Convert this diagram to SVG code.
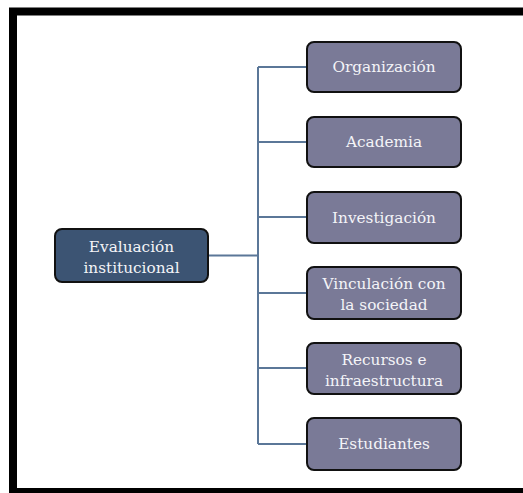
<svg xmlns="http://www.w3.org/2000/svg" width="523" height="493" viewBox="0 0 523 493">
  <style>
    .frame { fill: none; stroke: #000; stroke-width: 8; }
    .box { stroke: #111; stroke-width: 2; }
    .child { fill: #7a7a97; }
    .root { fill: #3c5473; }
    .lbl { font-family: "DejaVu Serif", "Liberation Serif", serif; font-size: 15.3px; fill: #f4f4f8; text-anchor: middle; }
    .wire { fill: none; stroke: #5b7798; stroke-width: 2; }
  </style>
  <rect width="523" height="493" fill="#fff"/>
  <!-- outer frame -->
  <path class="frame" d="M13,493 V11.5 H523 M13,492 H523"/>

  <g id="connectors">
    <path class="wire" d="M208,255.5 H258"/>
    <path class="wire" d="M258,67 V444"/>
    <path class="wire" d="M258,67 H307 M258,142 H307 M258,217 H307 M258,293 H307 M258,368 H307 M258,444 H307"/>
  </g>

  <g id="evaluacion">
    <rect class="box root" x="55" y="229" width="153" height="53" rx="7"/>
    <text class="lbl" x="131.5" y="252">Evaluación</text>
    <text class="lbl" x="131.5" y="273">institucional</text>
  </g>
  <g id="organizacion">
    <rect class="box child" x="307" y="42" width="154" height="50" rx="7"/>
    <text class="lbl" x="384" y="72">Organización</text>
  </g>
  <g id="academia">
    <rect class="box child" x="307" y="117" width="154" height="50" rx="7"/>
    <text class="lbl" x="384" y="147">Academia</text>
  </g>
  <g id="investigacion">
    <rect class="box child" x="307" y="192" width="154" height="51" rx="7"/>
    <text class="lbl" x="384" y="223">Investigación</text>
  </g>
  <g id="vinculacion">
    <rect class="box child" x="307" y="267" width="154" height="52" rx="7"/>
    <text class="lbl" x="384" y="289">Vinculación con</text>
    <text class="lbl" x="384" y="310">la sociedad</text>
  </g>
  <g id="recursos">
    <rect class="box child" x="307" y="343" width="154" height="51" rx="7"/>
    <text class="lbl" x="384" y="365">Recursos e</text>
    <text class="lbl" x="384" y="386">infraestructura</text>
  </g>
  <g id="estudiantes">
    <rect class="box child" x="307" y="418" width="154" height="52" rx="7"/>
    <text class="lbl" x="384" y="449">Estudiantes</text>
  </g>
</svg>
